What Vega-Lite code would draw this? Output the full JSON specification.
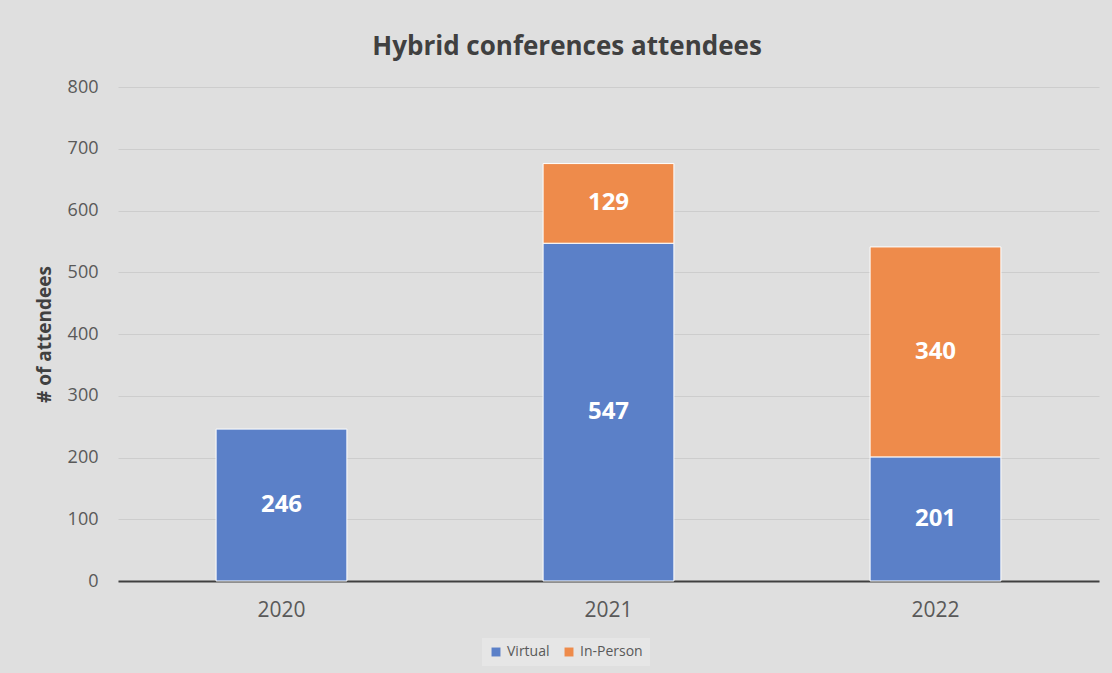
{
  "$schema": "https://vega.github.io/schema/vega-lite/v6.json",
  "autosize": "none",
  "width": 981,
  "height": 494,
  "padding": {"left": 118, "top": 87, "right": 13, "bottom": 92},
  "background": "#dfdfdf",
  "title": {
    "text": "Hybrid conferences attendees",
    "font": "Open Sans",
    "fontSize": 26,
    "fontWeight": "bold",
    "color": "#404040",
    "anchor": "middle",
    "frame": "bounds",
    "offset": 18
  },
  "data": {
    "values": [
      {"year": "2020", "type": "Virtual", "order": 1, "value": 246},
      {"year": "2021", "type": "Virtual", "order": 1, "value": 547},
      {"year": "2021", "type": "In-Person", "order": 2, "value": 129},
      {"year": "2022", "type": "Virtual", "order": 1, "value": 201},
      {"year": "2022", "type": "In-Person", "order": 2, "value": 340}
    ]
  },
  "transform": [
    {"stack": "value", "groupby": ["year"], "sort": [{"field": "order"}], "as": ["v0", "v1"]},
    {"calculate": "(datum.v0 + datum.v1) / 2", "as": "mid"}
  ],
  "encoding": {
    "x": {
      "field": "year",
      "type": "nominal",
      "scale": {"paddingInner": 0.6, "paddingOuter": 0.3},
      "axis": {
        "title": null,
        "labelAngle": 0,
        "labelFont": "Open Sans",
        "labelFontSize": 21,
        "labelColor": "#595959",
        "labelPadding": 18,
        "ticks": false,
        "domainColor": "#404040",
        "domainWidth": 2
      }
    }
  },
  "layer": [
    {
      "mark": {"type": "bar", "stroke": "#ffffff", "strokeWidth": 1},
      "encoding": {
        "y": {
          "field": "v0",
          "type": "quantitative",
          "scale": {"domain": [0, 800]},
          "axis": {
            "title": "# of attendees",
            "titleFont": "Open Sans",
            "titleFontSize": 19,
            "titleFontWeight": "bold",
            "titleColor": "#404040",
            "titlePadding": 13,
            "values": [0, 100, 200, 300, 400, 500, 600, 700, 800],
            "labelFont": "Open Sans",
            "labelFontSize": 18,
            "labelColor": "#595959",
            "labelPadding": 20,
            "ticks": false,
            "domain": false,
            "gridColor": "#cdcdcd",
            "gridWidth": 1
          }
        },
        "y2": {"field": "v1"},
        "color": {
          "field": "type",
          "type": "nominal",
          "scale": {"domain": ["Virtual", "In-Person"], "range": ["#5b80c8", "#ee8b4b"]},
          "legend": {
            "title": null,
            "orient": "none",
            "legendX": 364,
            "legendY": 551,
            "direction": "horizontal",
            "symbolType": "square",
            "symbolSize": 80,
            "symbolStrokeWidth": 0,
            "labelFont": "Open Sans",
            "labelFontSize": 14,
            "labelColor": "#595959",
            "columnPadding": 12,
            "padding": 7,
            "fillColor": "#e6e6e6"
          }
        }
      }
    },
    {
      "mark": {"type": "text", "color": "#ffffff", "font": "Open Sans", "fontSize": 24, "fontWeight": "bold", "baseline": "middle"},
      "encoding": {
        "y": {"field": "mid", "type": "quantitative"},
        "text": {"field": "value", "type": "quantitative"}
      }
    }
  ],
  "config": {"view": {"stroke": null}}
}
